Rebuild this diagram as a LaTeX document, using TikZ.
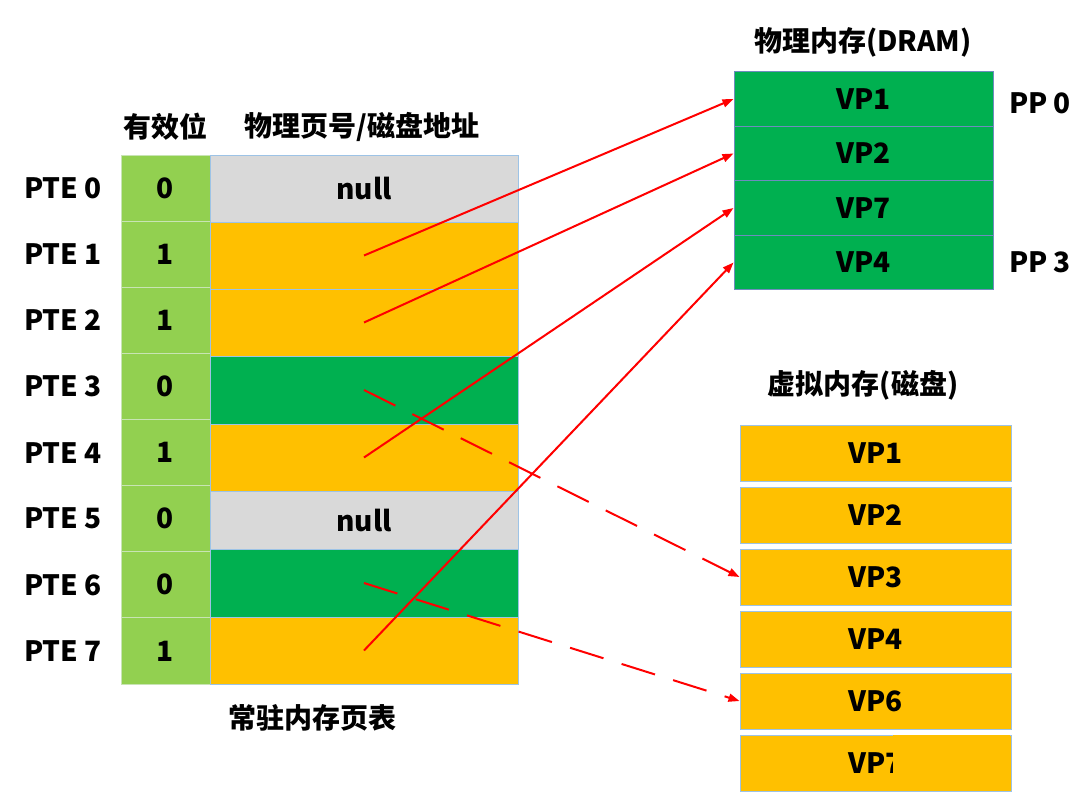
\documentclass[tikz,border=0pt]{standalone}
\usepackage{fontspec}
\setmainfont{Noto Sans CJK SC}
\usetikzlibrary{arrows.meta}
\definecolor{lgreen}{RGB}{146,208,80}
\definecolor{dgreen}{RGB}{0,176,80}
\definecolor{ygold}{RGB}{255,192,0}
\definecolor{lgray}{RGB}{217,217,217}
\definecolor{cellline}{RGB}{157,195,230}
\definecolor{vline}{RGB}{200,228,180}
\definecolor{dramline}{RGB}{110,140,190}
\definecolor{arrred}{RGB}{255,0,0}
\tikzset{
  txt/.style={font=\fontsize{28}{32}\selectfont\bfseries, inner sep=0pt},
  vcell/.style={txt, fill=lgreen, draw=vline, line width=1pt, minimum width=89pt, minimum height=66.1pt},
  ccell/.style={txt, draw=cellline, line width=1pt, minimum width=308pt},
  dcell/.style={txt, fill=dgreen, draw=dramline, line width=1pt, minimum width=259pt, minimum height=54.5pt},
  kcell/.style={txt, fill=ygold, draw=cellline, line width=1pt, minimum width=271pt, minimum height=56pt},
  link/.style={draw=arrred, line width=2pt, -{Triangle[length=11pt,width=8pt]}},
  dlink/.style={link, dash pattern=on 35pt off 19pt}
}
\begin{document}
\begin{tikzpicture}[x=1pt,y=-1pt]
\useasboundingbox (0,0) rectangle (1092,807);
% headers
\node[txt] (h1) at (165.5,127) {有效位};
\node[txt] (h2) at (362,127) {物理页号/磁盘地址};
\node[txt] (tt) at (312,718) {常驻内存页表};
% valid column and labels
\foreach \i/\v in {0/0,1/1,2/1,3/0,4/1,5/0,6/0,7/1}{
  \node[vcell] (v\i) at (165.5,{155+66.125*(\i+0.5)}) {\v};
  \node[txt] (l\i) at (63,{155+66.125*(\i+0.5)}) {PTE \i};
}
% content column
\node[ccell, fill=lgray, minimum height=67pt] (p0) at (364,188.5) {null};
\node[ccell, fill=ygold, minimum height=67pt] (p1) at (364,255.5) {};
\node[ccell, fill=ygold, minimum height=67pt] (p2) at (364,322.5) {};
\node[ccell, fill=dgreen, minimum height=68pt] (p3) at (364,390) {};
\node[ccell, fill=ygold, minimum height=67pt] (p4) at (364,457.5) {};
\node[ccell, fill=lgray, minimum height=58pt] (p5) at (364,520) {null};
\node[ccell, fill=dgreen, minimum height=68pt] (p6) at (364,583) {};
\node[ccell, fill=ygold, minimum height=67pt] (p7) at (364,650.5) {};
% DRAM
\node[txt] (dt) at (863,42) {物理内存(DRAM)};
\node[dcell] (d1) at (863.5,99) {VP1};
\node[dcell] (d2) at (863.5,153.5) {VP2};
\node[dcell] (d7) at (863.5,208) {VP7};
\node[dcell] (d4) at (863.5,262.5) {VP4};
\node[txt] (pp0) at (1040,103) {PP 0};
\node[txt] (pp3) at (1040,262) {PP 3};
% disk
\node[txt] (kt) at (863,385) {虚拟内存(磁盘)};
\node[kcell] (k1) at (875.5,453.5) {VP1};
\node[kcell] (k2) at (875.5,515) {VP2};
\node[kcell] (k3) at (875.5,577) {VP3};
\node[kcell] (k4) at (875.5,639) {VP4};
\node[kcell] (k6) at (875.5,701) {VP6};
\node[kcell] (k7) at (875.5,763.5) {VP7};
\fill[ygold] (893,735) rectangle (1010,777);
% connectors
\draw[dlink] (p3.center) -- (k3.west);
\draw[dlink] (p6.center) -- (k6.west);
\draw[link] (p1.center) -- (d1.west);
\draw[link] (p2.center) -- (d2.west);
\draw[link] (p4.center) -- (d7.west);
\draw[link] (p7.center) -- (d4.west);
\end{tikzpicture}
\end{document}
